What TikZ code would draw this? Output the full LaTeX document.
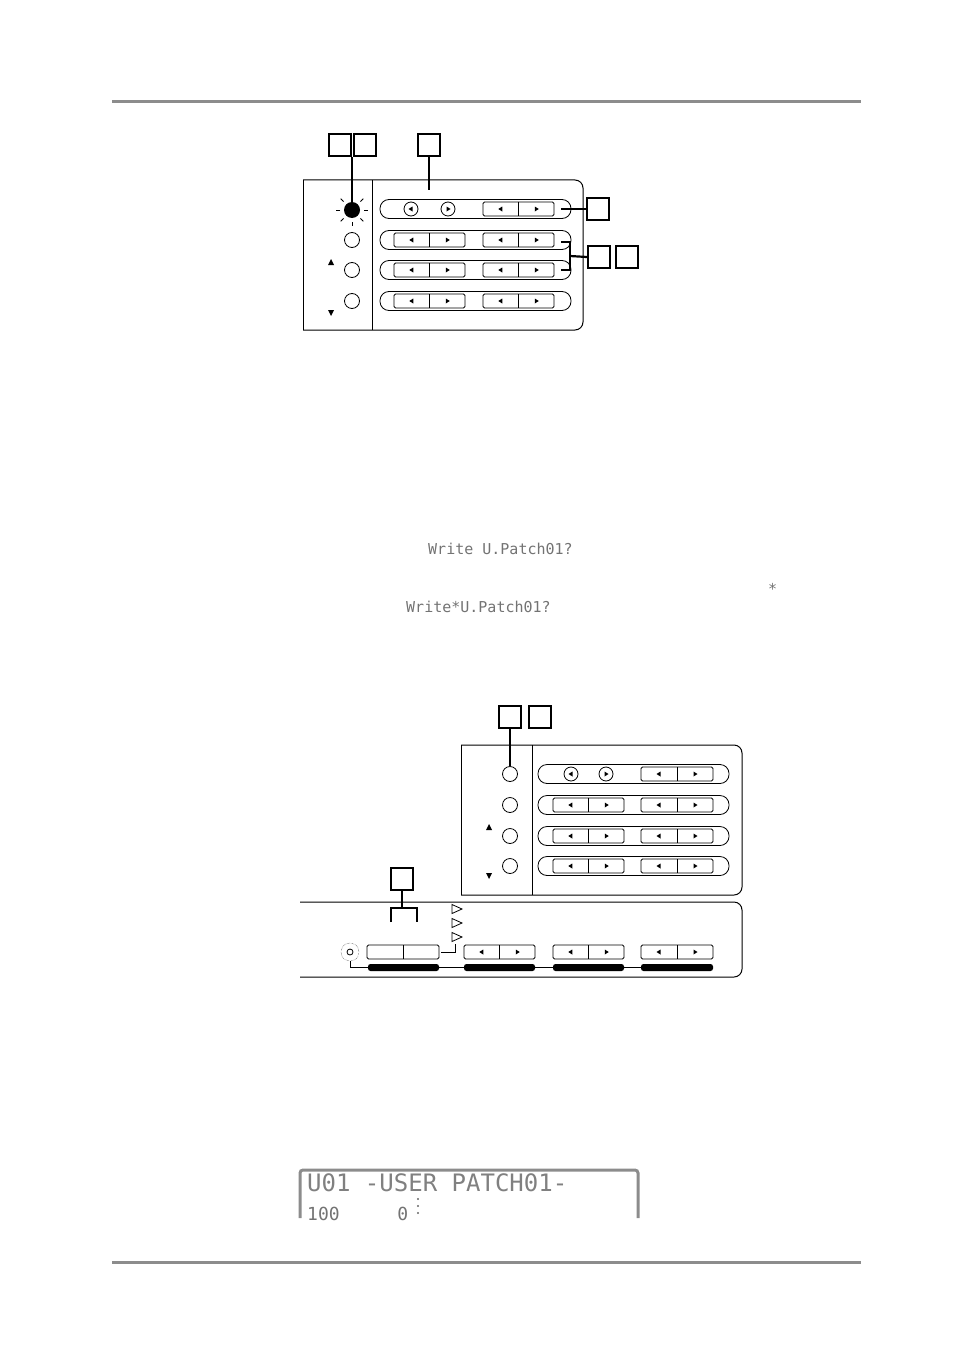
\documentclass[tikz,border=0pt]{standalone}
\usepackage{fontspec}
\newfontfamily\lcdfont{DejaVu Sans Mono}
\begin{document}
\begin{tikzpicture}[x=1pt,y=-1pt,
  rule/.style={draw=black!45,line width=3pt},
  panel/.style={draw,line width=1pt},
  sq/.style={draw,line width=2.2pt,minimum size=22pt,inner sep=0pt},
  callline/.style={line width=2.2pt},
  btn/.style={draw,line width=0.8pt,rounded corners=1.5pt},
  pill/.style={draw,line width=0.8pt,rounded corners=9pt},
  led/.style={draw,line width=0.8pt,circle,minimum size=15pt,inner sep=0pt},
  lcdtxt/.style={text=black!55,inner sep=0pt,anchor=west,font=\lcdfont\fontsize{15}{15}\selectfont},
  lcdbig/.style={text=black!50,inner sep=0pt,anchor=west,font=\lcdfont\fontsize{24}{24}\selectfont}]
\useasboundingbox (0,0) rectangle (954,1351);
\newcommand\lft[2]{\fill ({#1+1.5},{#2-2.5}) -- ({#1-2.5},{#2}) -- ({#1+1.5},{#2+2.5}) -- cycle;}
\newcommand\rgt[2]{\fill ({#1-1.5},{#2-2.5}) -- ({#1+2.5},{#2}) -- ({#1-1.5},{#2+2.5}) -- cycle;}
\newcommand\pair[3]{% left x, right x, y
  \draw[btn] (#1,#3-7) rectangle (#2,#3+7);
  \draw[line width=0.8pt] ({(#1+#2)/2},#3-7) -- ({(#1+#2)/2},#3+7);
  \lft{(3*#1+#2)/4}{#3}\rgt{(#1+3*#2)/4}{#3}}
\newcommand\pairx[3]{%
  \draw[btn] (#1,#3-7) rectangle (#2,#3+7);
  \draw[line width=0.8pt] ({(#1+#2)/2},#3-7) -- ({(#1+#2)/2},#3+7);}
% rules
\draw[rule] (112,102) -- (861,102);
\draw[rule] (112,1262) -- (861,1262);
% ===== top panel
\draw[panel,rounded corners=8pt] (303,180) -- (583,180) -- (583,330) -- (303,330);
\draw[panel] (303,180) -- (303,330);
\draw[panel] (372,180) -- (372,330);
\node[sq] (a1) at (340,145) {};
\node[sq] (a2) at (365,145) {};
\node[sq] (a3) at (429,145) {};
\node[circle,fill,minimum size=16pt,inner sep=0pt] (l1) at (352,210) {};
\foreach \a in {0,45,90,135,180,225,270,315}
  \draw[line width=0.8pt] (352,210) ++(-\a:12) -- ++(-\a:4);
\node[led] (l2) at (352,240) {};
\node[led] (l3) at (352,270) {};
\node[led] (l4) at (352,301) {};
\fill (328,265)--(334,265)--(331,259)--cycle;
\fill (328,310)--(334,310)--(331,316)--cycle;
\draw[callline] (l1.north) -- (l1.north |- a1.south);
\draw[callline] (a3.south) -- (429,190);
\foreach \y in {209,240,270,301} \draw[pill] (380,\y-9.5) rectangle (571,\y+9.5);
\node[led,minimum size=14pt] (c1) at (411,209) {}; \lft{411}{209}
\node[led,minimum size=14pt] (c2) at (448,209) {}; \rgt{448}{209}
\pair{483}{554}{209}
\foreach \y in {240,270,301}{\pair{394}{465}{\y}\pair{483}{554}{\y}}
\node[sq] (b1) at (598,209) {};
\draw[callline] (561,209) -- (b1.west);
\node[sq] (b2) at (599,257) {};
\node[sq] (b3) at (627,257) {};
\draw[callline] (561,242) -- (570,242) -- (570,270) -- (561,270);
\draw[callline] (570,256) -- (b2.west);
% ===== texts
\node[lcdtxt] (t1) at (428,549) {Write U.Patch01?};
\node[lcdtxt] (t2) at (768,589) {*};
\node[lcdtxt] (t3) at (406,607) {Write*U.Patch01?};
% ===== lower panel
\draw[panel,rounded corners=8pt] (461,745) -- (742,745) -- (742,895) -- (461,895);
\draw[panel] (461,745) -- (461,895);
\draw[panel] (532,745) -- (532,895);
\node[sq] (d1) at (510,717) {};
\node[sq] (d2) at (540,717) {};
\node[led] (m1) at (510,774) {};
\node[led] (m2) at (510,805) {};
\node[led] (m3) at (510,836) {};
\node[led] (m4) at (510,866) {};
\fill (486,830)--(492,830)--(489,824)--cycle;
\fill (486,873)--(492,873)--(489,879)--cycle;
\draw[callline] (d1.south) -- (m1.north);
\foreach \y in {774,805,836,866} \draw[pill] (538,\y-9.5) rectangle (729,\y+9.5);
\node[led,minimum size=14pt] (e1) at (571,774) {}; \lft{571}{774}
\node[led,minimum size=14pt] (e2) at (606,774) {}; \rgt{606}{774}
\pair{641}{713}{774}
\foreach \y in {805,836,866}{\pair{553}{624}{\y}\pair{641}{713}{\y}}
% bottom strip
\draw[panel,rounded corners=8pt] (300,902) -- (742,902) -- (742,977) -- (300,977);
\node[sq] (f1) at (402,879) {};
\draw[callline] (f1.south) -- (402,908);
\draw[callline] (391,922) -- (391,908) -- (417,908) -- (417,922);
\foreach \y in {909,923,937} \draw[line width=0.8pt] (452,\y-4.5) -- (462,\y) -- (452,\y+4.5) -- cycle;
\draw[line width=0.8pt] (441,952) -- (455,952) -- (455,944);
\node[draw,circle,densely dotted,minimum size=18pt,inner sep=0pt] (g1) at (350,952) {};
\node[draw,circle,line width=0.8pt,minimum size=6pt,inner sep=0pt] at (350,952) {};
\pairx{367}{439}{952}
\pair{464}{535}{952}\pair{553}{624}{952}\pair{641}{713}{952}
\draw[line width=0.8pt] (g1.south) -- (350,967) -- (713,967);
\foreach \a/\b in {368/439,464/535,553/624,641/713}
  \fill[rounded corners=2.5pt] (\a,964) rectangle (\b,971);
% ===== LCD
\draw[draw=black!45,line width=3pt,rounded corners=3pt] (300,1218) -- (300,1170) -- (638,1170) -- (638,1218);
\node[lcdbig] (u1) at (307,1183) {U01 -USER PATCH01-};
\node[lcdtxt,font=\lcdfont\fontsize{18}{18}\selectfont] (u2) at (307,1214) {100\hspace{3.2em}0};
\foreach \y in {1199,1206,1213} \fill[black!60] (418,\y) circle (1.1);
\end{tikzpicture}
\end{document}
